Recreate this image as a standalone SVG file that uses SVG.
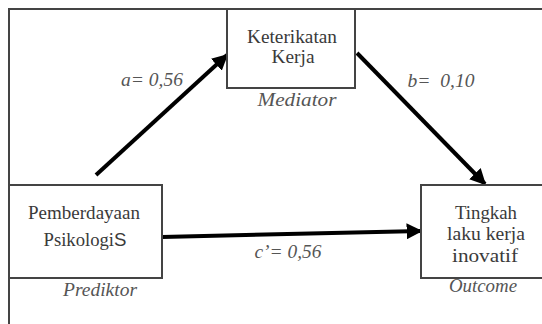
<svg xmlns="http://www.w3.org/2000/svg" width="542" height="324" viewBox="0 0 542 324">
<defs>
<marker id="ah" viewBox="0 0 10 10" refX="9" refY="5" markerWidth="4" markerHeight="4" markerUnits="strokeWidth" orient="auto">
<path d="M0,0 L10,5 L0,10 z" fill="#000"/>
</marker>
<style>
.box{fill:#fff;stroke:#444;stroke-width:2}
.t{fill:#3a3a3a}
.i{fill:#555;font-style:italic}
.c{stroke:#000;stroke-width:4;fill:none;marker-end:url(#ah)}
</style>
</defs>
<rect x="0" y="0" width="542" height="324" fill="#fff"/>
<g id="frame"><path d="M9,324 L9,9 L542,9" fill="none" stroke="#444" stroke-width="2"/></g>
<g font-family="Liberation Serif, Tinos, Times New Roman, DejaVu Serif, serif" font-size="18" text-anchor="middle">
<g id="connectors">
<line class="c" x1="96" y1="175" x2="227" y2="55"/>
<line class="c" x1="357" y1="53" x2="485" y2="184"/>
<line class="c" x1="162" y1="237" x2="421" y2="231"/>
<text class="i" x="152" y="86" textLength="62" lengthAdjust="spacingAndGlyphs">a= 0,56</text>
<text class="i" x="441" y="87" textLength="67" lengthAdjust="spacingAndGlyphs" xml:space="preserve">b=  0,10</text>
<text class="i" x="288" y="258" textLength="67" lengthAdjust="spacingAndGlyphs">c’= 0,56</text>
</g>
<g id="mediator">
<rect class="box" x="227" y="9" width="128" height="79"/>
<text class="t" x="292" y="43" textLength="90" lengthAdjust="spacingAndGlyphs">Keterikatan</text>
<text class="t" x="293" y="63" textLength="43" lengthAdjust="spacingAndGlyphs">Kerja</text>
<text class="i" x="297" y="106" textLength="79" lengthAdjust="spacingAndGlyphs">Mediator</text>
</g>
<g id="prediktor">
<rect class="box" x="9" y="185" width="153" height="93"/>
<text class="t" x="84" y="219" textLength="112" lengthAdjust="spacingAndGlyphs">Pemberdayaan</text>
<text class="t" x="85" y="246" textLength="83" lengthAdjust="spacingAndGlyphs">Psikologi<tspan font-family="Liberation Sans, Arial, sans-serif">S</tspan></text>
<text class="i" x="100" y="296" textLength="74" lengthAdjust="spacingAndGlyphs">Prediktor</text>
</g>
<g id="outcome">
<rect class="box" x="421" y="185" width="130" height="93"/>
<text class="t" x="486" y="219" textLength="62" lengthAdjust="spacingAndGlyphs">Tingkah</text>
<text class="t" x="486" y="240" textLength="78" lengthAdjust="spacingAndGlyphs">laku kerja</text>
<text class="t" x="485" y="262" textLength="66" lengthAdjust="spacingAndGlyphs">inovatif</text>
<text class="i" x="483" y="292" textLength="68" lengthAdjust="spacingAndGlyphs">Outcome</text>
</g>
</g>
</svg>
